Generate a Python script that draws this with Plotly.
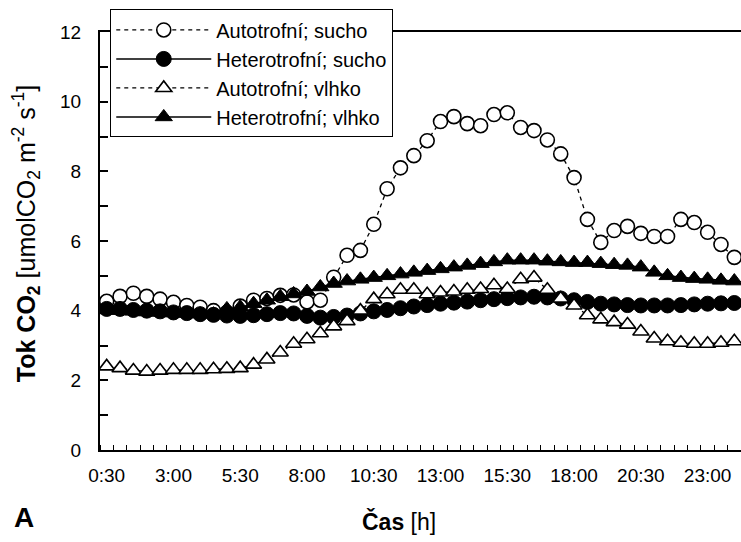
import plotly.graph_objects as go

times = ["0:30", "1:00", "1:30", "2:00", "2:30", "3:00", "3:30", "4:00", "4:30", "5:00",
         "5:30", "6:00", "6:30", "7:00", "7:30", "8:00", "8:30", "9:00", "9:30", "10:00",
         "10:30", "11:00", "11:30", "12:00", "12:30", "13:00", "13:30", "14:00", "14:30", "15:00",
         "15:30", "16:00", "16:30", "17:00", "17:30", "18:00", "18:30", "19:00", "19:30", "20:00",
         "20:30", "21:00", "21:30", "22:00", "22:30", "23:00", "23:30", "24:00"]

auto_sucho = [4.27, 4.41, 4.50, 4.41, 4.33, 4.24, 4.15, 4.10, 4.00, 3.95,
              4.13, 4.30, 4.35, 4.44, 4.45, 4.25, 4.30, 4.96, 5.59, 5.73,
              6.48, 7.50, 8.10, 8.45, 8.88, 9.43, 9.57, 9.37, 9.31, 9.63,
              9.68, 9.26, 9.17, 8.90, 8.50, 7.82, 6.62, 5.96, 6.30, 6.42,
              6.22, 6.13, 6.13, 6.62, 6.53, 6.25, 5.90, 5.53]

het_sucho = [4.05, 4.05, 4.02, 4.00, 3.98, 3.95, 3.93, 3.90, 3.88, 3.86,
             3.85, 3.87, 3.90, 3.93, 3.92, 3.85, 3.80, 3.82, 3.86, 3.92,
             3.98, 4.02, 4.07, 4.12, 4.16, 4.20, 4.23, 4.26, 4.30, 4.33,
             4.36, 4.38, 4.40, 4.38, 4.35, 4.30, 4.25, 4.20, 4.18, 4.16,
             4.15, 4.15, 4.15, 4.16, 4.18, 4.20, 4.21, 4.22]

auto_vlhko = [2.40, 2.35, 2.28, 2.25, 2.28, 2.30, 2.30, 2.30, 2.32, 2.33,
              2.35, 2.45, 2.60, 2.80, 3.05, 3.18, 3.35, 3.55, 3.70, 4.00,
              4.33, 4.47, 4.60, 4.60, 4.47, 4.52, 4.55, 4.60, 4.62, 4.73,
              4.62, 4.90, 4.95, 4.60, 4.35, 4.15, 3.87, 3.75, 3.67, 3.60,
              3.40, 3.20, 3.12, 3.08, 3.05, 3.05, 3.08, 3.12]

het_vlhko = [4.02, 4.00, 3.98, 3.96, 3.95, 3.93, 3.92, 3.90, 3.90, 4.05,
             4.10, 4.20, 4.30, 4.40, 4.48, 4.55, 4.68, 4.78, 4.85, 4.90,
             4.95, 5.00, 5.05, 5.10, 5.15, 5.20, 5.25, 5.30, 5.35, 5.40,
             5.45, 5.45, 5.45, 5.42, 5.40, 5.38, 5.38, 5.35, 5.32, 5.30,
             5.25, 5.10, 5.00, 4.95, 4.92, 4.90, 4.87, 4.85]

label_times = ["0:30", "3:00", "5:30", "8:00", "10:30", "13:00", "15:30", "18:00", "20:30", "23:00"]


def to_hours(t):
    h, m = t.split(":")
    return int(h) + int(m) / 60.0


x = [to_hours(t) for t in times]
label_vals = [to_hours(t) for t in label_times]

FONT = "Arial, Liberation Sans, sans-serif"
dash = "4px,4px"

fig = go.Figure()

fig.add_trace(go.Scatter(
    x=x, y=auto_sucho, name="Autotrofní; sucho", mode="lines+markers", legendgroup="g1",
    line=dict(color="black", width=1.3, dash=dash),
    marker=dict(symbol="circle", size=14, color="white", line=dict(color="black", width=1.6))))
fig.add_trace(go.Scatter(
    x=x, y=het_sucho, name="Heterotrofní; sucho", mode="lines+markers", legendgroup="g2",
    line=dict(color="black", width=1.5),
    marker=dict(symbol="circle", size=15, color="black", line=dict(color="black", width=1))))
fig.add_trace(go.Scatter(
    x=x, y=auto_vlhko, name="Autotrofní; vlhko", mode="lines+markers", legendgroup="g3",
    line=dict(color="black", width=1.3, dash=dash),
    marker=dict(symbol="triangle-up", size=14, color="white", line=dict(color="black", width=1.6))))
fig.add_trace(go.Scatter(
    x=x, y=het_vlhko, name="Heterotrofní; vlhko", mode="lines+markers", legendgroup="g4",
    line=dict(color="black", width=1.5),
    marker=dict(symbol="triangle-up", size=15, color="black", line=dict(color="black", width=1))))

fig.update_layout(
    width=741, height=542,
    margin=dict(l=100, r=0, t=32, b=92),
    paper_bgcolor="white", plot_bgcolor="white",
    font=dict(family=FONT, size=19, color="black"),
    showlegend=True,
    legend=dict(
        x=0.016, y=1.054, xanchor="left", yanchor="top",
        bgcolor="white", bordercolor="black", borderwidth=1,
        font=dict(family=FONT, size=20, color="black"),
        itemwidth=95, traceorder="grouped", tracegroupgap=0,
    ),
)

fig.update_xaxes(
    range=[0.25, 24.25],
    tickmode="array", tickvals=label_vals, ticktext=label_times,
    ticks="", ticklabelstandoff=7,
    tickfont=dict(family=FONT, size=19, color="black"),
    showgrid=False, zeroline=False,
    showline=True, linecolor="black", linewidth=2, mirror=True,
    minor=dict(tickmode="linear", tick0=0.25, dtick=0.5, ticks="inside", ticklen=5,
               tickcolor="black", tickwidth=1, showgrid=False),
)

fig.update_yaxes(
    range=[0, 12], tickmode="linear", tick0=0, dtick=2,
    ticks="inside", ticklen=8, tickcolor="black", tickwidth=1.5,
    ticklabelstandoff=13,
    tickfont=dict(family=FONT, size=19, color="black"),
    showgrid=False, zeroline=False,
    showline=True, linecolor="black", linewidth=2,
    minor=dict(tickmode="linear", tick0=0, dtick=1, ticks="inside", ticklen=8,
               tickcolor="black", tickwidth=1.5, showgrid=False),
)

fig.add_annotation(
    xref="paper", yref="paper", x=-0.115, y=0.517, textangle=-90,
    text="<b>Tok CO<sub>2</sub></b> [umolCO<sub>2</sub> m<sup>-2</sup> s<sup>-1</sup>]",
    showarrow=False, font=dict(family=FONT, size=25, color="black"),
    xanchor="center", yanchor="middle")

fig.add_annotation(
    xref="paper", yref="paper", x=0.467, y=-0.172,
    text="<b>Čas</b> [h]", showarrow=False,
    font=dict(family=FONT, size=23, color="black"),
    xanchor="center", yanchor="middle")

fig.add_annotation(
    xref="paper", yref="paper", x=-0.118, y=-0.162,
    text="<b>A</b>", showarrow=False,
    font=dict(family=FONT, size=28, color="black"),
    xanchor="center", yanchor="middle")

fig.write_html("out.html")
